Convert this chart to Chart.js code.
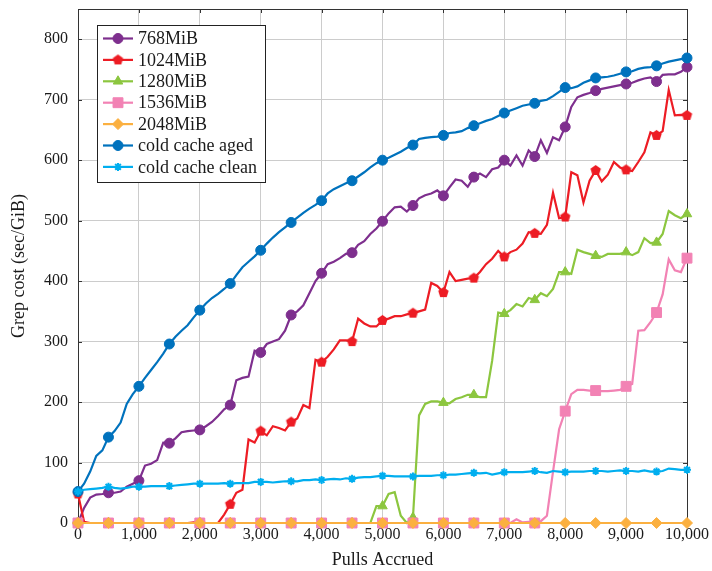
<!DOCTYPE html>
<html>
<head>
<title>Grep cost</title>
<style>
  body { margin: 0; background: #fff; }
  #wrap { width: 712px; height: 571px; }
</style>
</head>
<body>
<div id="wrap"><canvas id="myChart"></canvas></div>
<script src="https://cdn.jsdelivr.net/npm/chart.js"></script>
<script>
// samples every 100 pulls, markers every 500
const pulls = Array.from({ length: 101 }, (_, i) => i * 100);
const xTicks = [0, 1000, 2000, 3000, 4000, 5000, 6000, 7000, 8000, 9000, 10000];
const yTicks = [0, 100, 200, 300, 400, 500, 600, 700, 800];

const seriesNames = ['768MiB', '1024MiB', '1280MiB', '1536MiB', '2048MiB', 'cold cache aged', 'cold cache clean'];

const mib768 = [
  0, 25, 42, 47, 48, 50, 50, 52, 60, 65,
  70, 95, 98, 104, 133, 132, 140, 150, 152, 153,
  154, 160, 167, 177, 188, 195, 236, 240, 242, 285,
  282, 296, 300, 304, 318, 344, 350, 360, 380, 400,
  413, 428, 432, 438, 445, 447, 460, 466, 478, 487,
  499, 512, 522, 523, 515, 525, 537, 542, 545, 550,
  541, 555, 568, 566, 556, 572, 578, 572, 585, 588,
  600, 591, 608, 591, 616, 606, 633, 612, 638, 633,
  655, 688, 704, 708, 711, 715, 718, 720, 722, 724,
  726, 728, 732, 735, 737, 730, 741, 742, 742, 746,
  754
];
const mib1024 = [
  48, 2, 0, 0, 0, 0, 0, 0, 0, 0,
  0, 0, 0, 0, 0, 0, 0, 0, 0, 1,
  0, 0, 0, 0, 14, 31, 50, 55, 138, 133,
  152, 145, 160, 157, 153, 167, 173, 195, 190, 270,
  266, 275, 287, 302, 302, 300, 338, 330, 325, 325,
  335, 338, 342, 342, 345, 347, 350, 353, 397, 392,
  381, 415, 400, 402, 404, 405, 415, 428, 437, 450,
  440, 448, 452, 462, 481, 479, 478, 493, 546, 504,
  506, 580, 575, 530, 566, 583, 565, 576, 597, 588,
  584, 582, 597, 613, 646, 641, 648, 716, 674, 675,
  674
];
const mib1280 = [
  0, 0, 0, 0, 0, 0, 0, 0, 0, 0,
  0, 0, 0, 0, 0, 0, 0, 0, 0, 0,
  0, 0, 0, 0, 0, 0, 0, 0, 0, 0,
  0, 0, 0, 0, 0, 0, 0, 0, 0, 0,
  0, 0, 0, 0, 0, 0, 0, 0, 0, 28,
  28, 48, 51, 12, 0, 9, 178, 197, 201, 201,
  199, 198, 205, 208, 212, 212, 208, 208, 268, 348,
  346, 352, 362, 358, 372, 369, 380, 375, 387, 415,
  415, 412, 452, 448, 445, 442, 440, 445, 445, 445,
  448, 443, 448, 471, 463, 464, 478, 516, 509, 504,
  511
];
const mib1536 = [
  0, 0, 0, 0, 0, 0, 0, 0, 0, 0,
  0, 0, 0, 0, 0, 0, 0, 0, 0, 0,
  0, 0, 0, 0, 0, 0, 0, 0, 0, 0,
  0, 0, 0, 0, 0, 0, 0, 0, 0, 0,
  0, 0, 0, 0, 0, 0, 0, 0, 0, 0,
  0, 0, 0, 0, 0, 0, 0, 0, 0, 0,
  0, 0, 0, 0, 0, 0, 0, 0, 0, 0,
  0, 0, 6, 1, 2, 0, 3, 12, 85, 155,
  185, 213, 220, 220, 219, 219, 218, 218, 219, 220,
  226, 230, 318, 319, 332, 348, 378, 436, 418, 415,
  438
];
const mib2048 = [
  0, 0, 0, 0, 0, 0, 0, 0, 0, 0,
  0, 0, 0, 0, 0, 0, 0, 0, 0, 0,
  0, 0, 0, 0, 0, 0, 0, 0, 0, 0,
  0, 0, 0, 0, 0, 0, 0, 0, 0, 0,
  0, 0, 0, 0, 0, 0, 0, 0, 0, 0,
  0, 0, 0, 0, 0, 0, 0, 0, 0, 0,
  0, 0, 0, 0, 0, 0, 0, 0, 0, 0,
  0, 0, 0, 0, 0, 0, 0, 0, 0, 0,
  0, 0, 0, 0, 0, 0, 0, 0, 0, 0,
  0, 0, 0, 0, 0, 0, 0, 0, 0, 0,
  0
];
const coldAged = [
  52, 65, 85, 111, 120, 142, 152, 166, 197, 213,
  226, 240, 253, 266, 280, 296, 308, 318, 327, 340,
  352, 363, 372, 379, 387, 396, 410, 423, 432, 441,
  451, 462, 472, 481, 489, 497, 505, 513, 520, 526,
  533, 545, 552, 557, 562, 566, 573, 580, 588, 595,
  600, 604, 609, 614, 620, 625, 635, 637, 638, 639,
  641, 645, 646, 648, 653, 657, 661, 665, 668, 673,
  678, 682, 686, 690, 692, 694, 698, 700, 706, 713,
  720, 719, 722, 728, 732, 736, 737, 738, 740, 743,
  746, 747, 751, 753, 754, 756, 760, 763, 765, 767,
  769
];
const coldClean = [
  52, 55, 56, 57, 58, 60, 58, 57, 58, 60,
  60, 60, 61, 61, 61, 61, 62, 63, 64, 65,
  65, 65, 65, 65, 66, 65, 66, 66, 66, 68,
  68, 68, 67, 68, 69, 69, 69, 71, 71, 72,
  71, 72, 73, 72, 74, 73, 75, 76, 76, 77,
  78, 78, 77, 77, 77, 77, 78, 78, 78, 79,
  79, 80, 80, 81, 82, 83, 82, 83, 80, 82,
  84, 84, 84, 84, 85, 86, 84, 83, 86, 85,
  84, 85, 85, 85, 86, 86, 86, 85, 86, 87,
  86, 86, 85, 87, 85, 85, 86, 90, 89, 88,
  88
];

const values = [mib768, mib1024, mib1280, mib1536, mib2048, coldAged, coldClean];
const colors = ['#7e2f8e', '#ed1c24', '#8cc63f', '#f282b4', '#fbb040', '#0072bd', '#00aeef'];

function pentagon(color, r) {
  const c = document.createElement('canvas');
  const s = Math.ceil(r * 2 + 2);
  c.width = s; c.height = s;
  const g = c.getContext('2d');
  g.fillStyle = color;
  g.beginPath();
  for (let k = 0; k < 5; k++) {
    const a = -Math.PI / 2 + k * 2 * Math.PI / 5;
    const px = s / 2 + r * Math.cos(a), py = s / 2 + r * Math.sin(a);
    if (k) g.lineTo(px, py); else g.moveTo(px, py);
  }
  g.closePath();
  g.fill();
  return c;
}

const markers = [
  { style: 'circle', r: 5 },
  { style: pentagon(colors[1], 5.5), r: 5 },
  { style: 'triangle', r: 5.5 },
  { style: 'rect', r: 7 },
  { style: 'rectRot', r: 5.5 },
  { style: 'circle', r: 5 },
  { style: 'star', r: 4 }
];

const serif = "'Liberation Serif', 'DejaVu Serif', serif";
Chart.defaults.font.family = serif;
Chart.defaults.color = '#1a1a1a';

const datasets = values.map((vals, i) => ({
  label: seriesNames[i],
  data: pulls.map((p, j) => ({ x: p, y: vals[j] })),
  borderColor: colors[i],
  backgroundColor: colors[i],
  pointBackgroundColor: colors[i],
  pointBorderColor: colors[i],
  pointBorderWidth: markers[i].style === 'star' ? 2 : 1,
  pointStyle: markers[i].style,
  pointRadius: (ctx) => ctx.index % 5 === 0 ? markers[i].r : 0,
  borderWidth: 2.2,
  tension: 0,
  clip: false,
  order: values.length - i
}));

// inside tick marks and the axis box, drawn under the lines like pgfplots
const framePlugin = {
  id: 'frame',
  beforeDatasetsDraw(chart) {
    const { ctx, chartArea: a, scales } = chart;
    ctx.save();
    ctx.strokeStyle = '#333';
    ctx.lineWidth = 1;
    ctx.beginPath();
    xTicks.forEach(v => {
      const x = Math.round(scales.x.getPixelForValue(v)) + 0.5;
      ctx.moveTo(x, a.bottom); ctx.lineTo(x, a.bottom - 4);
      ctx.moveTo(x, a.top); ctx.lineTo(x, a.top + 4);
    });
    yTicks.forEach(v => {
      const y = Math.round(scales.y.getPixelForValue(v)) + 0.5;
      ctx.moveTo(a.left, y); ctx.lineTo(a.left + 4, y);
      ctx.moveTo(a.right, y); ctx.lineTo(a.right - 4, y);
    });
    ctx.stroke();
    ctx.strokeRect(Math.round(a.left) + 0.5, Math.round(a.top) + 0.5,
      Math.round(a.right - a.left), Math.round(a.bottom - a.top));
    ctx.restore();
  }
};

const legendPlugin = {
  id: 'boxLegend',
  afterDraw(chart) {
    const ctx = chart.ctx;
    const bx = 97, by = 25, bw = 168, bh = 157;
    ctx.save();
    ctx.fillStyle = '#fff';
    ctx.fillRect(bx, by, bw, bh);
    ctx.strokeStyle = '#222';
    ctx.lineWidth = 1;
    ctx.strokeRect(bx + 0.5, by + 0.5, bw, bh);
    seriesNames.forEach((name, i) => {
      const y = 38.5 + i * 21.4;
      ctx.strokeStyle = colors[i];
      ctx.lineWidth = 2.2;
      ctx.beginPath();
      ctx.moveTo(103, y); ctx.lineTo(133, y);
      ctx.stroke();
      ctx.fillStyle = colors[i];
      ctx.lineWidth = markers[i].style === 'star' ? 2 : 1;
      Chart.helpers.drawPoint(ctx, {
        pointStyle: markers[i].style, radius: markers[i].r, rotation: 0,
        borderWidth: ctx.lineWidth
      }, 118, y);
      ctx.fillStyle = '#1a1a1a';
      ctx.font = '18px ' + serif;
      ctx.textBaseline = 'middle';
      ctx.textAlign = 'left';
      ctx.fillText(name, 138, y + 1);
    });
    ctx.restore();
  }
};

new Chart(document.getElementById('myChart'), {
  type: 'line',
  data: { datasets: datasets },
  options: {
    responsive: true,
    maintainAspectRatio: false,
    animation: false,
    events: [],
    layout: { padding: { left: 0, right: 25, top: 9, bottom: 0 } },
    plugins: { legend: { display: false }, tooltip: { enabled: false } },
    scales: {
      x: {
        type: 'linear',
        min: 0,
        max: 10000,
        afterBuildTicks: (s) => { s.ticks = xTicks.map(v => ({ value: v })); },
        afterFit: (s) => { s.height = 48; s.paddingLeft = 0; s.paddingRight = 0; },
        grid: { color: '#cccccc', lineWidth: 1, drawTicks: false },
        border: { display: false },
        ticks: {
          autoSkip: false, maxRotation: 0, padding: 2,
          font: { size: 16 },
          callback: (v) => Number(v).toLocaleString('en-US')
        },
        title: { display: true, text: 'Pulls Accrued', font: { size: 18 }, padding: { top: 0, bottom: 0 } }
      },
      y: {
        type: 'linear',
        min: 0,
        max: 850,
        afterBuildTicks: (s) => { s.ticks = yTicks.map(v => ({ value: v })); },
        afterFit: (s) => { s.width = 78; s.paddingTop = 0; s.paddingBottom = 0; },
        grid: { color: '#cccccc', lineWidth: 1, drawTicks: false },
        border: { display: false },
        ticks: { padding: 10, font: { size: 16 } },
        title: { display: true, text: 'Grep cost (sec/GiB)', font: { size: 18 }, padding: { top: 8, bottom: 0 } }
      }
    }
  },
  plugins: [framePlugin, legendPlugin]
});
</script>
</body>
</html>
